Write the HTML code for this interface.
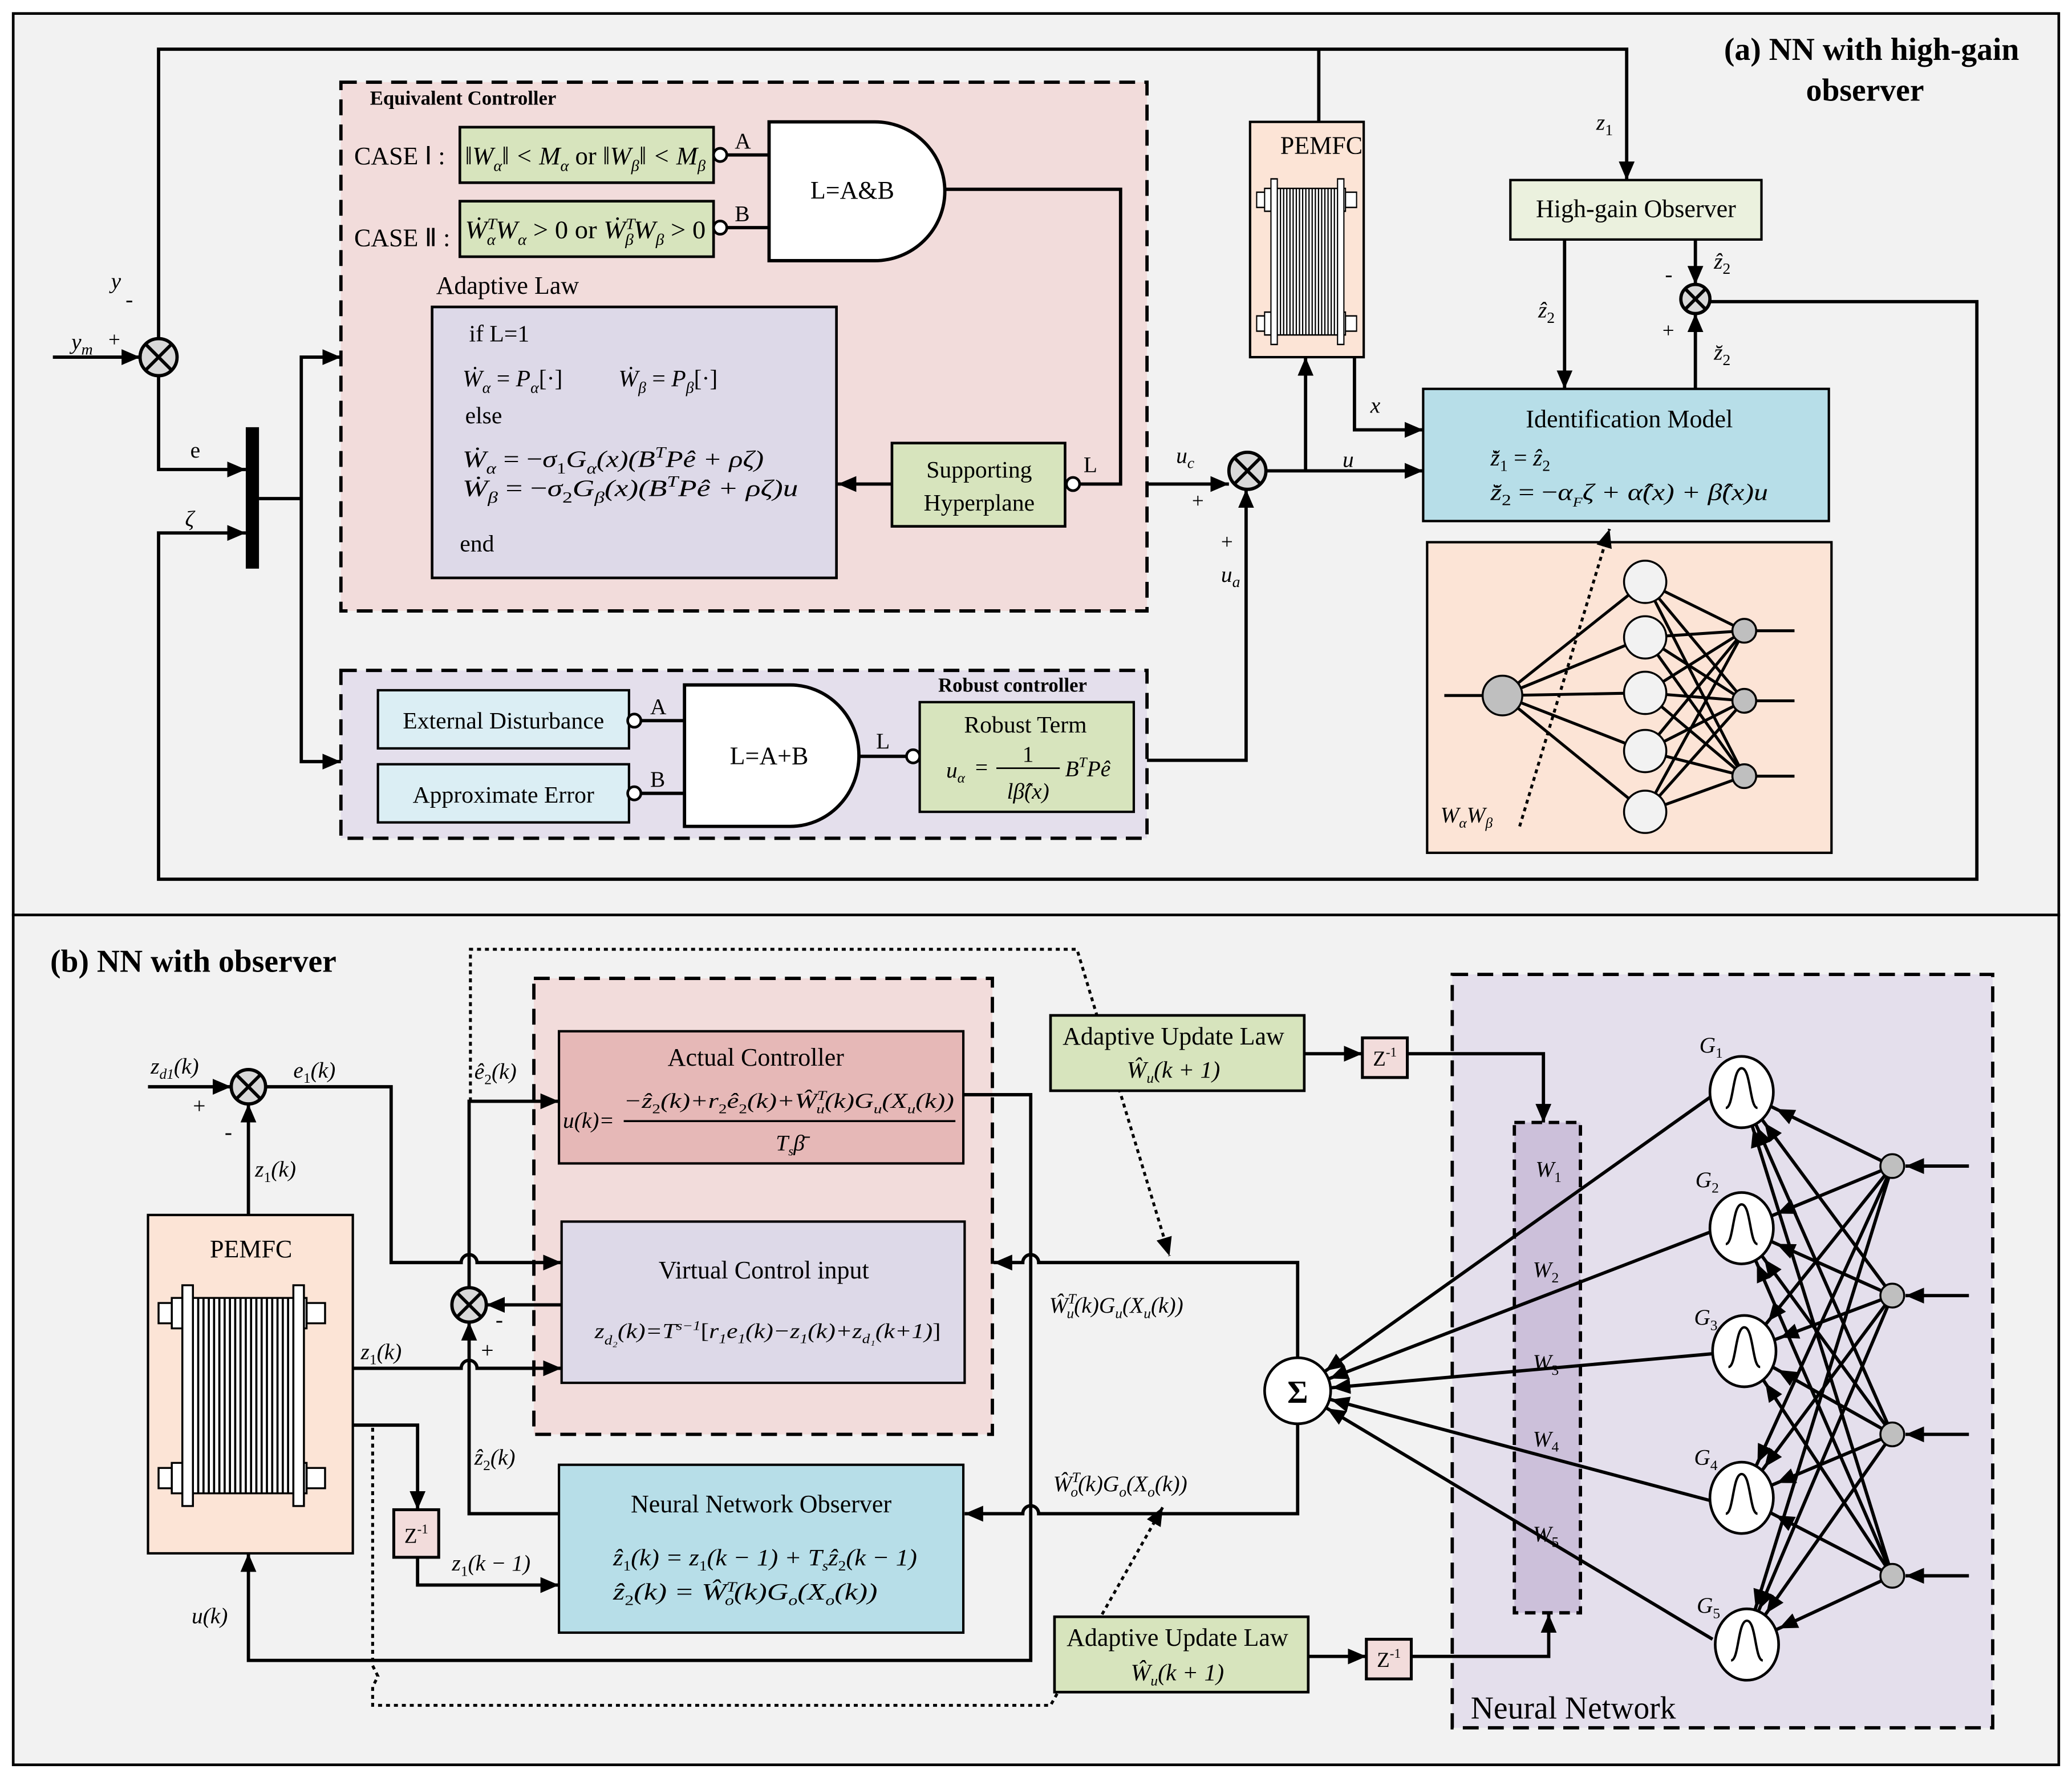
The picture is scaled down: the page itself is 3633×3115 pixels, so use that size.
<!DOCTYPE html>
<html><head><meta charset="utf-8"><style>
html,body{margin:0;padding:0;background:#fff;}
svg{display:block;}
text{font-family:"Liberation Serif",serif;fill:#000;}
.i{font-style:italic;}
</style></head><body>
<svg width="3633" height="3115" viewBox="0 0 1568 1344" xmlns="http://www.w3.org/2000/svg">
<defs>
<marker id="a" markerUnits="userSpaceOnUse" markerWidth="16" markerHeight="12" refX="14" refY="6" orient="auto"><path d="M0,0L14,6L0,12z" fill="#000"/></marker>
<marker id="g" markerUnits="userSpaceOnUse" markerWidth="60" markerHeight="12" refX="43" refY="6" orient="auto"><path d="M0,0L14,6L0,12z" fill="#000"/></marker>
<marker id="s" markerUnits="userSpaceOnUse" markerWidth="60" markerHeight="12" refX="40" refY="6" orient="auto"><path d="M0,0L14,6L0,12z" fill="#000"/></marker>
<g id="stack">
<rect x="0" y="10" width="14" height="16" fill="#fff" stroke="#000" stroke-width="1.5"/>
<rect x="0" y="140" width="14" height="16" fill="#fff" stroke="#000" stroke-width="1.5"/>
<rect x="10" y="6" width="8" height="24" fill="#fff" stroke="#000" stroke-width="1.5"/>
<rect x="10" y="136" width="8" height="24" fill="#fff" stroke="#000" stroke-width="1.5"/>
<rect x="112" y="10" width="14" height="16" fill="#fff" stroke="#000" stroke-width="1.5"/>
<rect x="112" y="140" width="14" height="16" fill="#fff" stroke="#000" stroke-width="1.5"/>
<rect x="104" y="6" width="8" height="24" fill="#fff" stroke="#000" stroke-width="1.5"/>
<rect x="104" y="136" width="8" height="24" fill="#fff" stroke="#000" stroke-width="1.5"/>
<rect x="26" y="6" width="76" height="154" fill="#fff" stroke="#000" stroke-width="1.5"/>
<path d="M30,6V160M34,6V160M38,6V160M42,6V160M46,6V160M50,6V160M54,6V160M58,6V160M62,6V160M66,6V160M70,6V160M74,6V160M78,6V160M82,6V160M86,6V160M90,6V160M94,6V160M98,6V160" stroke="#000" stroke-width="1.6"/>
<rect x="18" y="-4" width="8" height="174" fill="#fff" stroke="#000" stroke-width="1.5"/>
<rect x="102" y="-4" width="8" height="174" fill="#fff" stroke="#000" stroke-width="1.5"/>
</g>
</defs>
<rect x="0" y="0" width="1568" height="1344" fill="#fff"/>
<rect x="10" y="10" width="1548" height="682" fill="#f2f2f2" stroke="#000" stroke-width="2"/>
<rect x="10" y="692" width="1548" height="643" fill="#f2f2f2" stroke="#000" stroke-width="2"/>

<!-- ================= TOP PANEL ================= -->
<text x="1528" y="45" font-size="24" font-weight="bold" text-anchor="end">(a) NN with high-gain</text>
<text x="1456" y="76" font-size="24" font-weight="bold" text-anchor="end">observer</text>

<rect x="258" y="62" width="610" height="400" fill="#f2dcdb" stroke="#000" stroke-width="2.5" stroke-dasharray="12,7"/>
<text x="280" y="79" font-size="15" font-weight="bold">Equivalent Controller</text>
<rect x="258" y="507" width="610" height="127" fill="#e4dfec" stroke="#000" stroke-width="2.5" stroke-dasharray="12,7"/>
<text x="710" y="523" font-size="15" font-weight="bold">Robust controller</text>

<g stroke="#000" stroke-width="2.5" fill="none">
<polyline points="120,256 120,37 1231,37 1231,136" marker-end="url(#a)"/>
<line x1="998" y1="37" x2="998" y2="92"/>
<line x1="40" y1="270" x2="106" y2="270" marker-end="url(#a)"/>
<polyline points="120,284 120,355 186,355" marker-end="url(#a)"/>
<polyline points="1283,228 1496,228 1496,665 120,665 120,403 186,403" marker-end="url(#a)"/>
<line x1="196" y1="377" x2="228" y2="377"/>
<polyline points="228,377 228,270 258,270" marker-end="url(#a)"/>
<polyline points="228,377 228,576 258,576" marker-end="url(#a)"/>
<line x1="545" y1="117" x2="582" y2="117"/>
<line x1="545" y1="172" x2="582" y2="172"/>
<polyline points="715,143 848,143 848,366 816,366"/>
<line x1="675" y1="366" x2="634" y2="366" marker-end="url(#a)"/>
<line x1="868" y1="366" x2="930" y2="366" marker-end="url(#a)"/>
<line x1="958" y1="356" x2="1077" y2="356" marker-end="url(#a)"/>
<line x1="988" y1="356" x2="988" y2="270" marker-end="url(#a)"/>
<polyline points="1025,270 1025,325 1077,325" marker-end="url(#a)"/>
<polyline points="868,575 943,575 943,370" marker-end="url(#a)"/>
<line x1="1184" y1="181" x2="1184" y2="294" marker-end="url(#a)"/>
<line x1="1283" y1="181" x2="1283" y2="215" marker-end="url(#a)"/>
<line x1="1283" y1="294" x2="1283" y2="237" marker-end="url(#a)"/>
<line x1="484" y1="545" x2="518" y2="545"/>
<line x1="484" y1="600" x2="518" y2="600"/>
<line x1="650" y1="572" x2="688" y2="572"/>
</g>
<rect x="186" y="323" width="10" height="107" fill="#000"/>

<!-- sum junctions -->
<g stroke="#000" stroke-width="2.5" fill="#d9d9d9">
<circle cx="120" cy="270" r="14"/><circle cx="944" cy="356" r="14"/><circle cx="1283" cy="226" r="11"/>
</g>
<g stroke="#000" stroke-width="2.5">
<path d="M110,260L130,280M130,260L110,280M934,346L954,366M954,346L934,366M1275,218L1291,234M1291,218L1275,234"/>
</g>
<text x="84" y="218" font-size="17" class="i">y</text><text x="95" y="232" font-size="17">-</text>
<text x="54" y="264" font-size="17" class="i">y<tspan font-size="12" dy="4">m</tspan></text><text x="82" y="262" font-size="16">+</text>
<text x="144" y="346" font-size="17">e</text><text x="140" y="398" font-size="17" class="i">ζ</text>
<text x="890" y="350" font-size="17" class="i">u<tspan font-size="12" dy="4">c</tspan></text>
<text x="902" y="384" font-size="16">+</text><text x="924" y="415" font-size="16">+</text>
<text x="924" y="440" font-size="17" class="i">u<tspan font-size="12" dy="4">a</tspan></text>
<text x="1037" y="312" font-size="17" class="i">x</text><text x="1016" y="353" font-size="17" class="i">u</text>
<text x="1208" y="98" font-size="17" class="i">z<tspan font-size="12" dy="4" font-style="normal">1</tspan></text>
<text x="1164" y="240" font-size="17" class="i">ẑ<tspan font-size="12" dy="4" font-style="normal">2</tspan></text>
<text x="1297" y="203" font-size="17" class="i">ẑ<tspan font-size="12" dy="4" font-style="normal">2</tspan></text>
<text x="1297" y="272" font-size="17" class="i">z̆<tspan font-size="12" dy="4" font-style="normal">2</tspan></text>
<text x="1260" y="213" font-size="17">-</text><text x="1258" y="255" font-size="16">+</text>

<!-- case boxes -->
<text x="268" y="124" font-size="19">CASE Ⅰ :</text>
<text x="268" y="186" font-size="19">CASE Ⅱ :</text>
<rect x="348" y="96" width="192" height="42" fill="#d7e4bd" stroke="#000" stroke-width="2"/>
<rect x="348" y="152" width="192" height="42" fill="#d7e4bd" stroke="#000" stroke-width="2"/>
<text x="352" y="124" font-size="19" class="i" textLength="182" lengthAdjust="spacingAndGlyphs">‖W<tspan font-size="12" dy="5">α</tspan><tspan dy="-5">‖ &lt; M</tspan><tspan font-size="12" dy="5">α</tspan><tspan dy="-5" font-style="normal"> or </tspan><tspan>‖W</tspan><tspan font-size="12" dy="5">β</tspan><tspan dy="-5">‖ &lt; M</tspan><tspan font-size="12" dy="5">β</tspan></text>
<text x="352" y="180" font-size="19" class="i" textLength="182" lengthAdjust="spacingAndGlyphs">Ẇ<tspan font-size="12" dy="-7">T</tspan><tspan font-size="12" dx="-7" dy="12">α</tspan><tspan dy="-5">W</tspan><tspan font-size="12" dy="5">α</tspan><tspan dy="-5" font-style="normal"> &gt; 0 or </tspan><tspan>Ẇ</tspan><tspan font-size="12" dy="-7">T</tspan><tspan font-size="12" dx="-7" dy="12">β</tspan><tspan dy="-5">W</tspan><tspan font-size="12" dy="5">β</tspan><tspan dy="-5" font-style="normal"> &gt; 0</tspan></text>
<circle cx="545" cy="117" r="5" fill="#fff" stroke="#000" stroke-width="2"/>
<circle cx="545" cy="172" r="5" fill="#fff" stroke="#000" stroke-width="2"/>
<text x="556" y="112" font-size="17">A</text><text x="556" y="167" font-size="17">B</text>
<path d="M582,92 H662 A53,52.5 0 0 1 662,197 H582 Z" fill="#fff" stroke="#000" stroke-width="2.5"/>
<text x="645" y="150" font-size="19" text-anchor="middle">L=A&amp;B</text>

<text x="330" y="222" font-size="19">Adaptive Law</text>
<rect x="327" y="232" width="306" height="205" fill="#ddd9e8" stroke="#000" stroke-width="2"/>
<text x="355" y="258" font-size="18">if   L=1</text>
<text x="350" y="292" font-size="18" class="i">Ẇ<tspan font-size="12" dy="5">α</tspan><tspan dy="-5" font-style="normal"> = </tspan>P<tspan font-size="12" dy="5">α</tspan><tspan dy="-5" font-style="normal">[·]</tspan></text>
<text x="468" y="292" font-size="18" class="i">Ẇ<tspan font-size="12" dy="5">β</tspan><tspan dy="-5" font-style="normal"> = </tspan>P<tspan font-size="12" dy="5">β</tspan><tspan dy="-5" font-style="normal">[·]</tspan></text>
<text x="352" y="320" font-size="18">else</text>
<text x="350" y="353" font-size="18" class="i" textLength="228" lengthAdjust="spacingAndGlyphs">Ẇ<tspan font-size="12" dy="5">α</tspan><tspan dy="-5" font-style="normal"> = −</tspan>σ<tspan font-size="12" dy="5" font-style="normal">1</tspan><tspan dy="-5">G</tspan><tspan font-size="12" dy="5">α</tspan><tspan dy="-5">(x)(B</tspan><tspan font-size="12" dy="-7">T</tspan><tspan dy="7">Pê + ρζ)</tspan></text>
<text x="350" y="375" font-size="18" class="i" textLength="254" lengthAdjust="spacingAndGlyphs">Ẇ<tspan font-size="12" dy="5">β</tspan><tspan dy="-5" font-style="normal"> = −</tspan>σ<tspan font-size="12" dy="5" font-style="normal">2</tspan><tspan dy="-5">G</tspan><tspan font-size="12" dy="5">β</tspan><tspan dy="-5">(x)(B</tspan><tspan font-size="12" dy="-7">T</tspan><tspan dy="7">Pê + ρζ)u</tspan></text>
<text x="348" y="417" font-size="18">end</text>

<rect x="675" y="335" width="131" height="63" fill="#d7e4bd" stroke="#000" stroke-width="2"/>
<text x="741" y="361" font-size="18" text-anchor="middle">Supporting</text>
<text x="741" y="386" font-size="18" text-anchor="middle">Hyperplane</text>
<circle cx="812" cy="366" r="5" fill="#fff" stroke="#000" stroke-width="2"/>
<text x="820" y="357" font-size="17">L</text>

<!-- PEMFC top -->
<rect x="946" y="92" width="86" height="178" fill="#fce4d6" stroke="#000" stroke-width="1.8"/>
<text x="1000" y="116" font-size="19" text-anchor="middle">PEMFC</text>
<use href="#stack" transform="translate(951,138) scale(0.6,0.72)"/>

<rect x="1143" y="136" width="190" height="45" fill="#ebf1de" stroke="#000" stroke-width="1.8"/>
<text x="1238" y="164" font-size="19" text-anchor="middle">High-gain Observer</text>

<rect x="1077" y="294" width="307" height="100" fill="#b7dee8" stroke="#000" stroke-width="1.8"/>
<text x="1233" y="323" font-size="19" text-anchor="middle">Identification Model</text>
<text x="1128" y="352" font-size="18" class="i">z̆̇<tspan font-size="12" dy="4" font-style="normal">1</tspan><tspan dy="-4" font-style="normal"> = </tspan>ẑ<tspan font-size="12" dy="4" font-style="normal">2</tspan></text>
<text x="1128" y="378" font-size="18" class="i" textLength="210" lengthAdjust="spacingAndGlyphs">z̆̇<tspan font-size="12" dy="4" font-style="normal">2</tspan><tspan dy="-4" font-style="normal"> = −</tspan>α<tspan font-size="10" dy="5">F</tspan><tspan dy="-5">ζ + α̂(x) + β̂(x)u</tspan></text>

<!-- NN top -->
<rect x="1080" y="410" width="306" height="235" fill="#fce4d6" stroke="#000" stroke-width="1.8"/>
<g stroke="#000" stroke-width="2.2">
<line x1="1093" y1="526" x2="1122" y2="526"/>
<line x1="1137" y1="526" x2="1245" y2="440"/><line x1="1137" y1="526" x2="1245" y2="482"/><line x1="1137" y1="526" x2="1245" y2="524"/><line x1="1137" y1="526" x2="1245" y2="568"/><line x1="1137" y1="526" x2="1245" y2="614"/>
<line x1="1245" y1="440" x2="1320" y2="477"/><line x1="1245" y1="440" x2="1320" y2="530"/><line x1="1245" y1="440" x2="1320" y2="587"/>
<line x1="1245" y1="482" x2="1320" y2="477"/><line x1="1245" y1="482" x2="1320" y2="530"/><line x1="1245" y1="482" x2="1320" y2="587"/>
<line x1="1245" y1="524" x2="1320" y2="477"/><line x1="1245" y1="524" x2="1320" y2="530"/><line x1="1245" y1="524" x2="1320" y2="587"/>
<line x1="1245" y1="568" x2="1320" y2="477"/><line x1="1245" y1="568" x2="1320" y2="530"/><line x1="1245" y1="568" x2="1320" y2="587"/>
<line x1="1245" y1="614" x2="1320" y2="477"/><line x1="1245" y1="614" x2="1320" y2="530"/><line x1="1245" y1="614" x2="1320" y2="587"/>
<line x1="1320" y1="477" x2="1358" y2="477"/><line x1="1320" y1="530" x2="1358" y2="530"/><line x1="1320" y1="587" x2="1358" y2="587"/>
</g>
<g stroke="#000" stroke-width="1.5">
<circle cx="1137" cy="526" r="15" fill="#bfbfbf"/>
<circle cx="1245" cy="440" r="16" fill="#f2f2f2"/><circle cx="1245" cy="482" r="16" fill="#f2f2f2"/><circle cx="1245" cy="524" r="16" fill="#f2f2f2"/><circle cx="1245" cy="568" r="16" fill="#f2f2f2"/><circle cx="1245" cy="614" r="16" fill="#f2f2f2"/>
<circle cx="1320" cy="477" r="9" fill="#bfbfbf"/><circle cx="1320" cy="530" r="9" fill="#bfbfbf"/><circle cx="1320" cy="587" r="9" fill="#bfbfbf"/>
</g>
<line x1="1150" y1="625" x2="1218" y2="400" stroke="#000" stroke-width="2.2" stroke-dasharray="3,3" marker-end="url(#a)"/>
<text x="1090" y="622" font-size="17" class="i">W<tspan font-size="11" dy="4">α</tspan><tspan dy="-4">W</tspan><tspan font-size="11" dy="4">β</tspan></text>

<!-- robust -->
<rect x="286" y="522" width="190" height="44" fill="#dbeef4" stroke="#000" stroke-width="1.8"/>
<text x="381" y="551" font-size="18" text-anchor="middle">External Disturbance</text>
<rect x="286" y="578" width="190" height="44" fill="#dbeef4" stroke="#000" stroke-width="1.8"/>
<text x="381" y="607" font-size="18" text-anchor="middle">Approximate Error</text>
<circle cx="480" cy="545" r="5" fill="#fff" stroke="#000" stroke-width="2"/>
<circle cx="480" cy="600" r="5" fill="#fff" stroke="#000" stroke-width="2"/>
<text x="492" y="540" font-size="17">A</text><text x="492" y="595" font-size="17">B</text>
<path d="M518,518 H598 A52,53.5 0 0 1 598,625 H518 Z" fill="#fff" stroke="#000" stroke-width="2.5"/>
<text x="582" y="578" font-size="19" text-anchor="middle">L=A+B</text>
<text x="663" y="566" font-size="17">L</text>
<circle cx="691" cy="572" r="5" fill="#fff" stroke="#000" stroke-width="2"/>
<rect x="696" y="531" width="162" height="83" fill="#d7e4bd" stroke="#000" stroke-width="1.8"/>
<text x="776" y="554" font-size="18" text-anchor="middle">Robust Term</text>
<text x="716" y="588" font-size="17" class="i">u<tspan font-size="11" dy="4">α</tspan></text>
<text x="738" y="586" font-size="17">=</text>
<line x1="754" y1="581" x2="802" y2="581" stroke="#000" stroke-width="1.2"/>
<text x="778" y="576" font-size="17" text-anchor="middle">1</text>
<text x="778" y="604" font-size="17" text-anchor="middle" class="i">lβ̂(x)</text>
<text x="806" y="587" font-size="17" class="i">B<tspan font-size="11" dy="-7">T</tspan><tspan dy="7">Pê</tspan></text>

<!-- ================= BOTTOM PANEL ================= -->
<text x="38" y="735" font-size="24" font-weight="bold">(b) NN with observer</text>
<rect x="404" y="740" width="347" height="345" fill="#f2dcdb" stroke="#000" stroke-width="2.5" stroke-dasharray="12,7"/>
<rect x="1099" y="737" width="409" height="570" fill="#e4dfec" stroke="#000" stroke-width="2.5" stroke-dasharray="12,7"/>
<text x="1113" y="1300" font-size="24">Neural Network</text>
<rect x="1146" y="849" width="50" height="371" fill="#ccc0da" stroke="#000" stroke-width="2.5" stroke-dasharray="8,5"/>
<g font-size="17" class="i">
<text x="1162" y="890" class="i">W<tspan font-size="11" dy="4" font-style="normal">1</tspan></text>
<text x="1160" y="966" class="i">W<tspan font-size="11" dy="4" font-style="normal">2</tspan></text>
<text x="1160" y="1036" class="i">W<tspan font-size="11" dy="4" font-style="normal">3</tspan></text>
<text x="1160" y="1094" class="i">W<tspan font-size="11" dy="4" font-style="normal">4</tspan></text>
<text x="1160" y="1166" class="i">W<tspan font-size="11" dy="4" font-style="normal">5</tspan></text>
</g>

<!-- dotted lines -->
<g stroke="#000" stroke-width="2.2" stroke-dasharray="3,3" fill="none">
<path d="M356,833 V718 H815 L885,950" marker-end="url(#a)"/>
<path d="M282,1080 V1260 L286,1268 L282,1276 V1290 H795 L880,1140" marker-end="url(#a)"/>
</g>

<g stroke="#000" stroke-width="2.5" fill="none">
<line x1="112" y1="822" x2="175" y2="822" marker-end="url(#a)"/>
<line x1="188" y1="919" x2="188" y2="835" marker-end="url(#a)"/>
<path d="M201,822 H296 V955 H349 A6,6 0 0 1 361,955 H425" marker-end="url(#a)"/>
<path d="M267,1035 H349 A6,6 0 0 1 361,1035 H425" marker-end="url(#a)"/>
<polyline points="355,974 355,833 423,833" marker-end="url(#a)"/>
<line x1="425" y1="987" x2="368" y2="987" marker-end="url(#a)"/>
<polyline points="423,1145 355,1145 355,1000" marker-end="url(#a)"/>
<polyline points="267,1078 316,1078 316,1142" marker-end="url(#a)"/>
<polyline points="316,1178 316,1199 423,1199" marker-end="url(#a)"/>
<path d="M729,828 H780 V1256 H188 V1175" marker-end="url(#a)"/>
<path d="M982,1027 V955 H786 A6,6 0 0 0 774,955 H752" marker-end="url(#a)"/>
<path d="M982,1077 V1145 H786 A6,6 0 0 0 774,1145 H730" marker-end="url(#a)"/>
<line x1="987" y1="797" x2="1031" y2="797" marker-end="url(#a)"/>
<polyline points="1065,797 1168,797 1168,849" marker-end="url(#a)"/>
<line x1="990" y1="1253" x2="1034" y2="1253" marker-end="url(#a)"/>
<polyline points="1068,1253 1172,1253 1172,1221" marker-end="url(#a)"/>
</g>

<!-- NN bottom connections -->
<g stroke="#000" stroke-width="2.5">
<line x1="1294" y1="830" x2="982" y2="1052" marker-end="url(#s)"/>
<line x1="1294" y1="932" x2="982" y2="1052" marker-end="url(#s)"/>
<line x1="1296" y1="1024" x2="982" y2="1052" marker-end="url(#s)"/>
<line x1="1294" y1="1135" x2="982" y2="1052" marker-end="url(#s)"/>
<line x1="1296" y1="1240" x2="982" y2="1052" marker-end="url(#s)"/>
<line x1="1490" y1="882" x2="1442" y2="882" marker-end="url(#a)"/>
<line x1="1490" y1="980" x2="1442" y2="980" marker-end="url(#a)"/>
<line x1="1490" y1="1085" x2="1442" y2="1085" marker-end="url(#a)"/>
<line x1="1490" y1="1192" x2="1442" y2="1192" marker-end="url(#a)"/>
</g>
<g stroke="#000" stroke-width="2.5">
<line x1="1432" y1="882" x2="1318" y2="826" marker-end="url(#g)"/><line x1="1432" y1="882" x2="1318" y2="929" marker-end="url(#g)"/><line x1="1432" y1="882" x2="1320" y2="1022" marker-end="url(#g)"/><line x1="1432" y1="882" x2="1318" y2="1133" marker-end="url(#g)"/><line x1="1432" y1="882" x2="1320" y2="1244" marker-end="url(#g)"/>
<line x1="1432" y1="980" x2="1318" y2="826" marker-end="url(#g)"/><line x1="1432" y1="980" x2="1318" y2="929" marker-end="url(#g)"/><line x1="1432" y1="980" x2="1320" y2="1022" marker-end="url(#g)"/><line x1="1432" y1="980" x2="1318" y2="1133" marker-end="url(#g)"/><line x1="1432" y1="980" x2="1320" y2="1244" marker-end="url(#g)"/>
<line x1="1432" y1="1085" x2="1318" y2="826" marker-end="url(#g)"/><line x1="1432" y1="1085" x2="1318" y2="929" marker-end="url(#g)"/><line x1="1432" y1="1085" x2="1320" y2="1022" marker-end="url(#g)"/><line x1="1432" y1="1085" x2="1318" y2="1133" marker-end="url(#g)"/><line x1="1432" y1="1085" x2="1320" y2="1244" marker-end="url(#g)"/>
<line x1="1432" y1="1192" x2="1318" y2="826" marker-end="url(#g)"/><line x1="1432" y1="1192" x2="1318" y2="929" marker-end="url(#g)"/><line x1="1432" y1="1192" x2="1320" y2="1022" marker-end="url(#g)"/><line x1="1432" y1="1192" x2="1318" y2="1133" marker-end="url(#g)"/><line x1="1432" y1="1192" x2="1320" y2="1244" marker-end="url(#g)"/>
</g>
<g stroke="#000" stroke-width="2" fill="#fff">
<ellipse cx="1318" cy="826" rx="24" ry="27"/><ellipse cx="1318" cy="929" rx="24" ry="27"/><ellipse cx="1320" cy="1022" rx="24" ry="27"/><ellipse cx="1318" cy="1133" rx="24" ry="27"/><ellipse cx="1322" cy="1244" rx="24" ry="27"/>
<circle cx="982" cy="1052" r="25"/>
</g>
<g stroke="#000" stroke-width="1.8" fill="none">
<path d="M1306,838 C1312,838 1311,808 1318,808 C1325,808 1324,838 1330,838"/>
<path d="M1306,941 C1312,941 1311,911 1318,911 C1325,911 1324,941 1330,941"/>
<path d="M1308,1034 C1314,1034 1313,1004 1320,1004 C1327,1004 1326,1034 1332,1034"/>
<path d="M1306,1145 C1312,1145 1311,1115 1318,1115 C1325,1115 1324,1145 1330,1145"/>
<path d="M1310,1256 C1316,1256 1315,1226 1322,1226 C1329,1226 1328,1256 1334,1256"/>
</g>
<g fill="#bfbfbf" stroke="#000" stroke-width="1.5">
<circle cx="1432" cy="882" r="9"/><circle cx="1432" cy="980" r="9"/><circle cx="1432" cy="1085" r="9"/><circle cx="1432" cy="1192" r="9"/>
</g>
<text x="982" y="1061" font-size="24" font-weight="bold" text-anchor="middle">Σ</text>
<g font-size="17">
<text x="1286" y="796" class="i">G<tspan font-size="11" dy="4" font-style="normal">1</tspan></text>
<text x="1283" y="898" class="i">G<tspan font-size="11" dy="4" font-style="normal">2</tspan></text>
<text x="1282" y="1002" class="i">G<tspan font-size="11" dy="4" font-style="normal">3</tspan></text>
<text x="1282" y="1108" class="i">G<tspan font-size="11" dy="4" font-style="normal">4</tspan></text>
<text x="1284" y="1220" class="i">G<tspan font-size="11" dy="4" font-style="normal">5</tspan></text>
</g>

<!-- blocks bottom -->
<rect x="423" y="780" width="306" height="100" fill="#e6b8b7" stroke="#000" stroke-width="1.8"/>
<text x="572" y="806" font-size="19" text-anchor="middle">Actual Controller</text>
<text x="426" y="853" font-size="17" class="i">u(k)=</text>
<text x="472" y="838" font-size="16" class="i" textLength="250" lengthAdjust="spacingAndGlyphs">−ẑ<tspan font-size="10" dy="4" font-style="normal">2</tspan><tspan dy="-4">(k)+r</tspan><tspan font-size="10" dy="4" font-style="normal">2</tspan><tspan dy="-4">ê</tspan><tspan font-size="10" dy="4" font-style="normal">2</tspan><tspan dy="-4">(k)+Ŵ</tspan><tspan font-size="10" dy="-6">T</tspan><tspan font-size="10" dx="-6" dy="10">u</tspan><tspan dy="-4">(k)G</tspan><tspan font-size="10" dy="4">u</tspan><tspan dy="-4">(X</tspan><tspan font-size="10" dy="4">u</tspan><tspan dy="-4">(k))</tspan></text>
<line x1="472" y1="848" x2="723" y2="848" stroke="#000" stroke-width="1.5"/>
<text x="598" y="870" font-size="17" class="i" text-anchor="middle">T<tspan font-size="10" dy="4">s</tspan><tspan dy="-4">β̄</tspan></text>

<rect x="425" y="924" width="305" height="122" fill="#ddd9e8" stroke="#000" stroke-width="1.8"/>
<text x="578" y="967" font-size="19" text-anchor="middle">Virtual Control input</text>
<text x="450" y="1012" font-size="16" class="i" fill="#333" textLength="262" lengthAdjust="spacingAndGlyphs">z<tspan font-size="10" dy="5">d₂</tspan><tspan dy="-5">(k)=T</tspan><tspan font-size="10" dy="-6">s</tspan><tspan font-size="10" dy="0">−1</tspan><tspan dy="6" font-style="normal">[</tspan><tspan>r</tspan><tspan font-size="10" dy="4">1</tspan><tspan dy="-4">e</tspan><tspan font-size="10" dy="4">1</tspan><tspan dy="-4">(k)−z</tspan><tspan font-size="10" dy="4">1</tspan><tspan dy="-4">(k)+z</tspan><tspan font-size="10" dy="4">d₁</tspan><tspan dy="-4">(k+1)</tspan><tspan font-style="normal">]</tspan></text>

<rect x="423" y="1108" width="306" height="127" fill="#b7dee8" stroke="#000" stroke-width="1.8"/>
<text x="576" y="1144" font-size="19" text-anchor="middle">Neural Network Observer</text>
<text x="464" y="1184" font-size="18" class="i" textLength="230" lengthAdjust="spacingAndGlyphs">ẑ<tspan font-size="11" dy="4" font-style="normal">1</tspan><tspan dy="-4">(k) = z</tspan><tspan font-size="11" dy="4" font-style="normal">1</tspan><tspan dy="-4">(k − 1) + T</tspan><tspan font-size="11" dy="4">s</tspan><tspan dy="-4">ẑ</tspan><tspan font-size="11" dy="4" font-style="normal">2</tspan><tspan dy="-4">(k − 1)</tspan></text>
<text x="464" y="1210" font-size="18" class="i" textLength="200" lengthAdjust="spacingAndGlyphs">ẑ<tspan font-size="11" dy="4" font-style="normal">2</tspan><tspan dy="-4">(k) = Ŵ</tspan><tspan font-size="11" dy="-6">T</tspan><tspan font-size="11" dx="-7" dy="10">o</tspan><tspan dy="-4">(k)G</tspan><tspan font-size="11" dy="4">o</tspan><tspan dy="-4">(X</tspan><tspan font-size="11" dy="4">o</tspan><tspan dy="-4">(k))</tspan></text>

<rect x="112" y="919" width="155" height="256" fill="#fce4d6" stroke="#000" stroke-width="1.8"/>
<text x="190" y="951" font-size="19" text-anchor="middle">PEMFC</text>
<use href="#stack" transform="translate(120,976) scale(1.0,0.96)"/>

<rect x="298" y="1142" width="34" height="36" fill="#f2dcdb" stroke="#000" stroke-width="2.2"/>
<text x="315" y="1167" font-size="16" text-anchor="middle">Z<tspan font-size="10" dy="-7">-1</tspan></text>
<rect x="1031" y="785" width="34" height="30" fill="#f2dcdb" stroke="#000" stroke-width="2.2"/>
<text x="1048" y="806" font-size="16" text-anchor="middle">Z<tspan font-size="10" dy="-7">-1</tspan></text>
<rect x="1034" y="1240" width="34" height="30" fill="#f2dcdb" stroke="#000" stroke-width="2.2"/>
<text x="1051" y="1261" font-size="16" text-anchor="middle">Z<tspan font-size="10" dy="-7">-1</tspan></text>

<rect x="795" y="768" width="192" height="57" fill="#d7e4bd" stroke="#000" stroke-width="2"/>
<text x="888" y="790" font-size="19" text-anchor="middle">Adaptive Update Law</text>
<text x="888" y="815" font-size="18" text-anchor="middle" class="i">Ŵ<tspan font-size="11" dy="4">u</tspan><tspan dy="-4">(k + 1)</tspan></text>
<rect x="798" y="1223" width="192" height="57" fill="#d7e4bd" stroke="#000" stroke-width="2"/>
<text x="891" y="1245" font-size="19" text-anchor="middle">Adaptive Update Law</text>
<text x="891" y="1271" font-size="18" text-anchor="middle" class="i">Ŵ<tspan font-size="11" dy="4">u</tspan><tspan dy="-4">(k + 1)</tspan></text>

<!-- bottom junctions -->
<g stroke="#000" stroke-width="2.5" fill="#d9d9d9">
<circle cx="188" cy="822" r="13"/><circle cx="355" cy="987" r="13"/>
</g>
<path d="M179,813L197,831M197,813L179,831M346,978L364,996M364,978L346,996" stroke="#000" stroke-width="2.5"/>

<g font-size="17">
<text x="114" y="812" class="i">z<tspan font-size="11" dy="4">d1</tspan><tspan dy="-4">(k)</tspan></text>
<text x="146" y="842">+</text><text x="170" y="862">-</text>
<text x="222" y="815" class="i">e<tspan font-size="11" dy="4" font-style="normal">1</tspan><tspan dy="-4">(k)</tspan></text>
<text x="193" y="890" class="i">z<tspan font-size="11" dy="4" font-style="normal">1</tspan><tspan dy="-4">(k)</tspan></text>
<text x="359" y="816" class="i">ê<tspan font-size="11" dy="4" font-style="normal">2</tspan><tspan dy="-4">(k)</tspan></text>
<text x="273" y="1028" class="i">z<tspan font-size="11" dy="4" font-style="normal">1</tspan><tspan dy="-4">(k)</tspan></text>
<text x="375" y="1004">-</text><text x="364" y="1027">+</text>
<text x="359" y="1108" class="i">ẑ<tspan font-size="11" dy="4" font-style="normal">2</tspan><tspan dy="-4">(k)</tspan></text>
<text x="342" y="1188" class="i">z<tspan font-size="11" dy="4" font-style="normal">1</tspan><tspan dy="-4">(k − 1)</tspan></text>
<text x="145" y="1228" class="i">u(k)</text>
<text x="794" y="993" class="i">Ŵ<tspan font-size="11" dy="-7">T</tspan><tspan font-size="11" dx="-7" dy="11">u</tspan><tspan dy="-4">(k)G</tspan><tspan font-size="11" dy="4">u</tspan><tspan dy="-4">(X</tspan><tspan font-size="11" dy="4">u</tspan><tspan dy="-4">(k))</tspan></text>
<text x="797" y="1128" class="i">Ŵ<tspan font-size="11" dy="-7">T</tspan><tspan font-size="11" dx="-7" dy="11">o</tspan><tspan dy="-4">(k)G</tspan><tspan font-size="11" dy="4">o</tspan><tspan dy="-4">(X</tspan><tspan font-size="11" dy="4">o</tspan><tspan dy="-4">(k))</tspan></text>
</g>
</svg>
</body></html>
